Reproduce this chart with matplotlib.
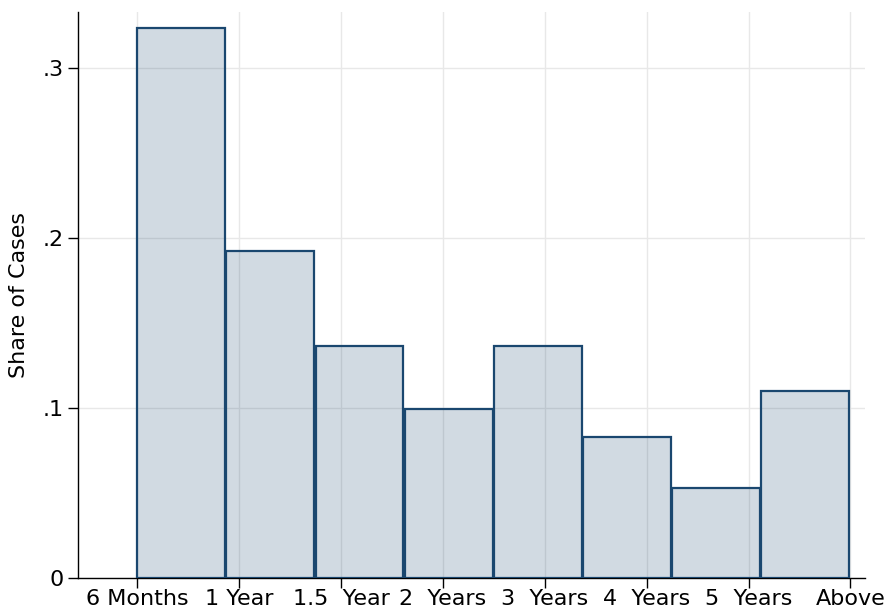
import matplotlib
matplotlib.use("Agg")
import matplotlib.pyplot as plt
import numpy as np

categories = ["6 Months", "1 Year", "1.5  Year", "2  Years", "3  Years", "4  Years", "5  Years", "Above"]
shares = [0.3237, 0.1922, 0.1365, 0.0994, 0.1365, 0.0828, 0.0528, 0.1100]
yticks = [0, 0.1, 0.2, 0.3]
ytick_labels = ["0", ".1", ".2", ".3"]

fig = plt.figure(figsize=(8.88, 6.11), dpi=100)
ax = fig.add_axes([0.0878, 0.054, 0.9738 - 0.0878, 0.980 - 0.054])

n = len(shares)
span = len(categories) - 1
w = span / n
lefts = np.arange(n) * w
ax.bar(lefts, shares, width=w * 0.985, align="edge", color="#1a476f", alpha=0.2,
       edgecolor="none", zorder=2)
ax.bar(lefts, shares, width=w * 0.985, align="edge", color="none",
       edgecolor="#1a476f", linewidth=1.6, zorder=3)

ax.set_xlim(-0.582, 7.14)
ax.set_ylim(0, 0.333)
ax.set_xticks(np.arange(len(categories)))
ax.set_xticklabels(categories)
ax.set_yticks(yticks)
ax.set_yticklabels(ytick_labels)
ax.grid(True, color="#e8e8e8", linewidth=1.0, zorder=0)
ax.set_axisbelow(True)
for s in ["top", "right"]:
    ax.spines[s].set_visible(False)
for s in ["left", "bottom"]:
    ax.spines[s].set_linewidth(1.0)
    ax.spines[s].set_color("black")
ax.tick_params(axis="both", direction="out", length=7, width=1.0, labelsize=16, colors="black")
ax.tick_params(axis="x", pad=1)
ax.tick_params(axis="y", pad=3)
ax.set_ylabel("Share of Cases", fontsize=16, labelpad=10)

fig.savefig("out.png", dpi=100)
